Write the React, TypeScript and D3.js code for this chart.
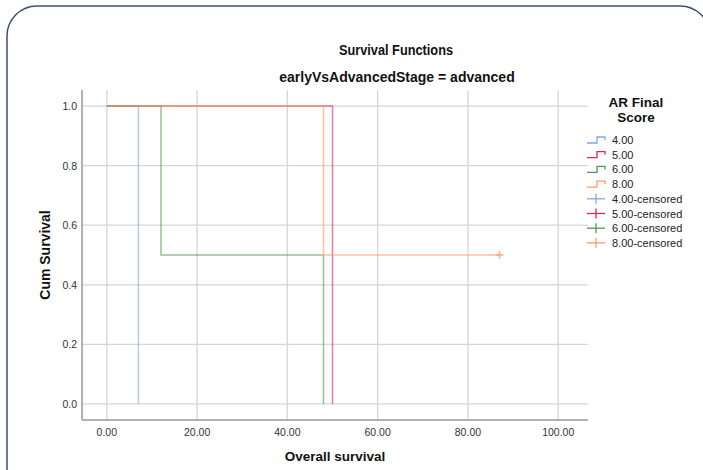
import React from "react";
import * as d3 from "d3";

// AR Final Score groups
const groups = ["4.00", "5.00", "6.00", "8.00"];
const groupColors = ["#7fa8e6", "#e0245e", "#4f9a4f", "#ff9a66"];

// Kaplan-Meier steps: [time, cum survival]
const steps4: [number, number][] = [[0, 1], [7, 0]];
const steps5: [number, number][] = [[0, 1], [50, 0]];
const steps6: [number, number][] = [[0, 1], [12, 0.5], [48, 0]];
const steps8: [number, number][] = [[0, 1], [48, 0.5], [87, 0.5]];
const stepSeries = [steps4, steps5, steps6, steps8];

// censored observations
const censored4: [number, number][] = [];
const censored5: [number, number][] = [];
const censored6: [number, number][] = [];
const censored8: [number, number][] = [[87, 0.5]];
const censoredSeries = [censored4, censored5, censored6, censored8];

const xTicks = [0, 20, 40, 60, 80, 100];
const yTicks = [0, 0.2, 0.4, 0.6, 0.8, 1.0];

const W = 703;
const H = 470;
const font = "'Liberation Sans', Arial, sans-serif";

export default function App() {
  const left = 82, right = 588, top = 90, bottom = 420;
  const x = d3.scaleLinear().domain([-5.5, 106.6]).range([left, right]);
  const y = d3.scaleLinear().domain([-0.054, 1.054]).range([bottom, top]);

  const line = d3
    .line<[number, number]>()
    .x(d => x(d[0]))
    .y(d => y(d[1]))
    .curve(d3.curveStepAfter);

  const legendItems = [
    ...groups.map((g, i) => ({ label: g, color: groupColors[i], kind: "step" })),
    ...groups.map((g, i) => ({ label: `${g}-censored`, color: groupColors[i], kind: "cens" })),
  ];

  return (
    <svg width={W} height={H} style={{ position: "absolute", left: 0, top: 0 }} fontFamily={font}>
      <rect x={0} y={0} width={W} height={H} fill="#fff" />
      <rect x={7} y={6} width={703} height={500} rx={30} ry={30} fill="none" stroke="#3d4f70" strokeWidth={1.5} />

      <text x={396} y={55} textAnchor="middle" fontSize={14} fontWeight="bold" fill="#111"
        textLength={114} lengthAdjust="spacingAndGlyphs">
        Survival Functions
      </text>
      <text x={397} y={82} textAnchor="middle" fontSize={14} fontWeight="bold" fill="#111">
        earlyVsAdvancedStage = advanced
      </text>

      {/* grid */}
      {xTicks.map(t => (
        <line key={"gx" + t} x1={x(t)} x2={x(t)} y1={top} y2={bottom} stroke="#d6d6d6" strokeWidth={1.3} />
      ))}
      {yTicks.map(t => (
        <line key={"gy" + t} x1={left} x2={right} y1={y(t)} y2={y(t)} stroke="#d6d6d6" strokeWidth={1.3} />
      ))}

      {/* axes */}
      <line x1={left} x2={left} y1={top} y2={bottom} stroke="#999" strokeWidth={1.5} />
      <line x1={left} x2={right} y1={bottom} y2={bottom} stroke="#999" strokeWidth={1.5} />

      {yTicks.map(t => (
        <text key={"ty" + t} x={77} y={y(t) + 4} textAnchor="end" fontSize={10.5} fill="#333">
          {t.toFixed(1)}
        </text>
      ))}
      {xTicks.map(t => (
        <text key={"tx" + t} x={x(t)} y={436} textAnchor="middle" fontSize={10.5} fill="#333">
          {t.toFixed(2)}
        </text>
      ))}

      <text x={(left + right) / 2} y={461} textAnchor="middle" fontSize={13.5} fontWeight="bold" fill="#111">
        Overall survival
      </text>
      <text
        transform={`translate(50,${(top + bottom) / 2}) rotate(-90)`}
        textAnchor="middle"
        fontSize={14}
        fontWeight="bold"
        fill="#111"
      >
        Cum Survival
      </text>

      {/* survival curves */}
      {stepSeries.map((s, i) => (
        <path key={"s" + i} d={line(s) || ""} fill="none" stroke={groupColors[i]} strokeWidth={1.5} strokeOpacity={0.6} />
      ))}
      {censoredSeries.map((c, i) =>
        c.map((d, j) => (
          <g key={"c" + i + "-" + j} stroke={groupColors[i]} strokeWidth={1.5} strokeOpacity={0.8}>
            <line x1={x(d[0]) - 4} x2={x(d[0]) + 4} y1={y(d[1])} y2={y(d[1])} />
            <line x1={x(d[0])} x2={x(d[0])} y1={y(d[1]) - 4} y2={y(d[1]) + 4} />
          </g>
        ))
      )}

      {/* legend */}
      <text x={636} y={107} textAnchor="middle" fontSize={13.5} fontWeight="bold" fill="#111">
        AR Final
      </text>
      <text x={636} y={122} textAnchor="middle" fontSize={13.5} fontWeight="bold" fill="#111">
        Score
      </text>
      {legendItems.map((it, i) => {
        const ly = 140 + i * 14.7;
        return (
          <g key={"l" + i}>
            {it.kind === "step" ? (
              <path
                d={`M587,${ly + 3}H597V${ly - 3}H605V${ly}`}
                fill="none"
                stroke={it.color}
                strokeWidth={1.3}
              />
            ) : (
              <g stroke={it.color} strokeWidth={1.3}>
                <line x1={587} x2={605} y1={ly} y2={ly} />
                <line x1={596} x2={596} y1={ly - 5} y2={ly + 5} />
              </g>
            )}
            <text x={612} y={ly + 4} fontSize={11} fill="#222">
              {it.label}
            </text>
          </g>
        );
      })}
    </svg>
  );
}
